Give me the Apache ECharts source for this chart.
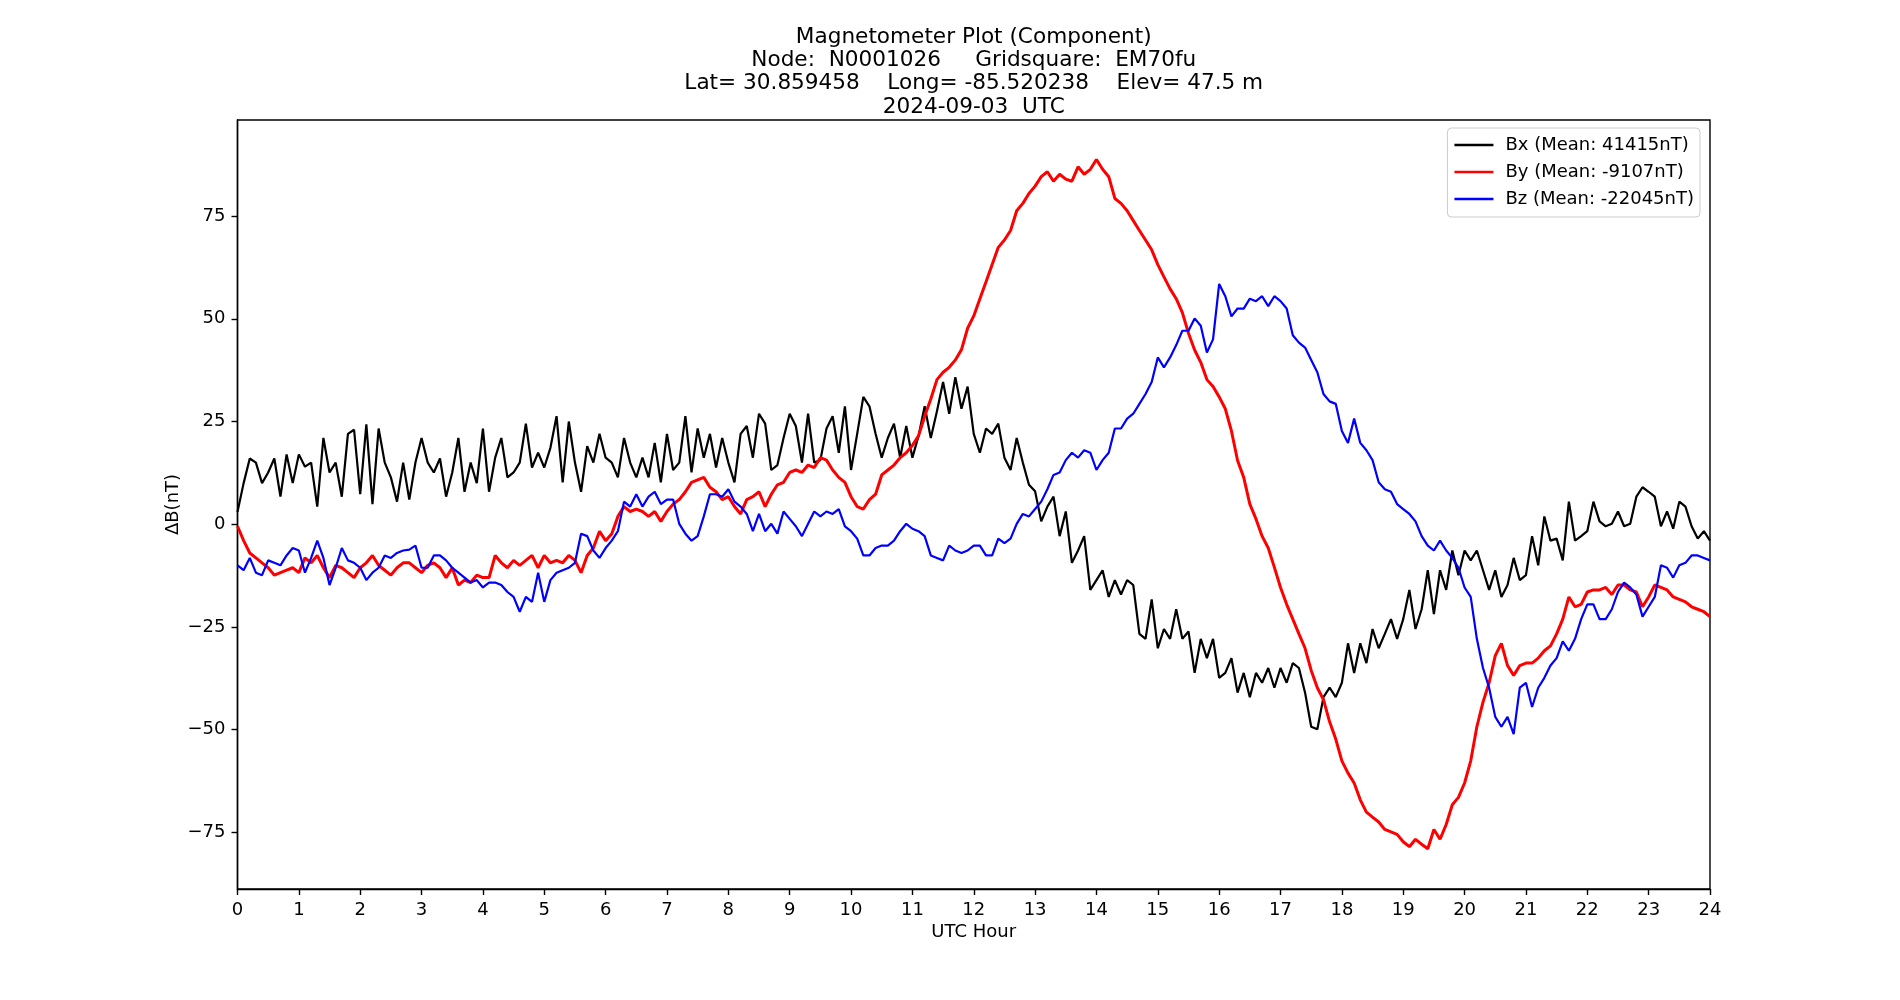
<!DOCTYPE html>
<html><head><meta charset="utf-8">
<script src="https://cdn.jsdelivr.net/npm/echarts@6/dist/echarts.min.js"></script>
<style>html,body{margin:0;padding:0;background:#fff}#c{width:1900px;height:1000px}</style>
</head><body><div id="c"></div>
<script>
// sample spacing (hours) of the values
const STEP_HOURS = 0.1;

const bx = [3,10,16,15,10,12.6,16,6.7,17,10,17,14,15,4.3,21,12.6,15,6.7,22,23,7.3,24.3,4.9,23.3,15,11.4,5.5,15,6,15,21,15,12.6,16,6.7,12.6,21,7.9,15,10,23.3,
7.9,16.2,21,11.4,12.6,15,24.5,13.8,17.4,13.8,18.6,26.3,10.2,25,15,7.9,19,15,22,16.2,15,11.4,21,15,11.4,16.2,11.4,19.8,10.2,22,13.2,15,26.3,12.6,23.3,16.2,22,13.8,21,15,
10.2,22,23.9,16.2,26.9,24.5,13.2,14.4,21,26.9,23.9,15,26.9,15,15.6,23.3,26.3,17.4,28.7,13.2,22,31,28.7,22,16.2,21,24.5,16.2,23.9,16.2,21.5,28.7,21,27.5,34.6,26.9,35.8,28.1,33.5,22,
17.4,23.3,22,24.5,16.2,13.2,21,15,9.6,8,0.7,4.3,6.7,-2.9,3.1,-9.4,-6.4,-2.9,-16,-13.6,-11.2,-17.7,-13.6,-17.1,-13.6,-14.8,-26.7,-27.9,-18.3,-30.2,-25.5,-27.9,-20.7,-27.9,-26.1,-36.2,-27.9,-32.6,-27.9,-37.4,
-36.2,-32.6,-41,-36.2,-42.1,-36.2,-38.6,-35,-39.8,-35,-38.6,-33.8,-35,-41,-49.3,-49.9,-42.1,-39.8,-42.1,-38.6,-29,-36.2,-29,-33.8,-25.5,-30.2,-26.7,-23.1,-27.9,-23.1,-16,-25.5,-20.7,-11.2,-21.9,-11.2,-16,-6.4,-12.4,-6.4,
-8.8,-6.4,-11.2,-16,-11.2,-17.7,-14.8,-8.2,-13.6,-12.4,-2.9,-10,1.9,-4,-3.5,-8.8,5.5,-4,-2.9,-1.7,5.5,0.7,-0.5,0.1,3.1,-0.5,0.1,6.7,9,7.9,6.7,-0.5,3.1,-1.1,5.5,4.3,-0.5,-3.5,-1.7,-4];

const by = [-0.5,-4,-7,-8.2,-9.4,-10.6,-12.4,-11.8,-11.2,-10.6,-11.8,-8.2,-9.4,-7.6,-10.6,-13,-10,-10.6,-11.8,-13,-10.6,-9.4,-7.6,-10,-11.2,-12.4,-10.6,-9.4,-9.4,-10.6,-11.8,-10,-9.4,-10.6,-13,-10.6,-14.8,-13.6,-14.2,-12.4,-13,
-13,-7.6,-9.4,-10.6,-8.8,-10,-8.8,-7.6,-10.6,-7.6,-9.4,-8.8,-9.4,-7.6,-8.8,-11.8,-7.6,-5.8,-1.7,-4,-2.3,1.9,4.3,3.1,3.7,3.1,1.9,3.1,0.7,3.1,4.9,6,7.9,10.2,10.8,11.4,9,7.9,6,6.7,
4.3,2.5,6,6.7,7.9,4.3,7.3,9.6,10.2,12.6,13.2,12.6,14.4,13.8,16.2,15.6,13.2,11.4,10.2,6.7,4.3,3.7,6,7.3,12,13.2,14.4,16.2,17.4,19.2,21.5,26.3,30.5,35.2,37,38.2,40,42.5,47.7,50.7,
54.9,59,63.2,67.4,69.2,71.5,76.3,78.1,80.5,82.3,84.6,85.8,83.5,85.2,84,83.5,87,85.2,86.4,88.8,86.4,84.6,79.3,78.1,76.3,73.9,71.5,69.2,66.8,63.2,60.2,57.3,54.9,51.5,46.5,42.4,39.4,35.2,33.5,31,
28.1,22.7,15.5,11.4,4.9,1.3,-2.9,-5.8,-10.5,-15.4,-19.5,-23.1,-26.7,-30.2,-35.6,-39.8,-42.7,-48.1,-52.3,-57.6,-60.6,-63,-67.1,-70.1,-71.3,-72.5,-74.3,-74.9,-75.5,-77.3,-78.5,-76.7,-77.9,-79,-74.3,-76.7,-73.1,-68.3,-66.5,-63,
-57.6,-49.3,-43.3,-38.6,-32,-29,-34.4,-36.8,-34.4,-33.8,-33.8,-32.6,-30.8,-29.6,-26.7,-23.1,-17.7,-20.1,-19.5,-16.5,-16,-16,-15.4,-17.1,-14.8,-14.8,-16,-16.5,-20.1,-17.7,-14.8,-15.4,-16,-17.7,-18.3,-18.9,-20.1,-20.7,-21.3,-22.5];

const bz = [-10,-11.2,-8.2,-11.8,-12.4,-8.8,-9.4,-10,-7.6,-5.8,-6.4,-11.8,-8.2,-4,-8.2,-14.8,-10.6,-5.8,-8.8,-9.4,-10.6,-13.6,-11.8,-10.6,-7.6,-8.2,-7,-6.4,-6.2,-5.2,-10.6,-10.6,-7.6,-7.6,-8.8,-10.6,-11.8,-13,-14.2,-13.6,-15.4,
-14.2,-14.2,-14.8,-16.5,-17.7,-21.3,-17.7,-18.9,-11.8,-18.9,-13.6,-11.8,-11.2,-10.6,-9.4,-2.3,-2.9,-6.4,-8.2,-5.8,-4,-1.7,5.5,4.3,7.3,4.3,6.7,7.9,4.9,6,6,0.1,-2.3,-4,-2.9,1.9,7.3,7.3,6.7,8.5,
5.5,4.3,2.5,-1.7,2.5,-1.7,0.1,-2.3,3.1,1.3,-0.5,-2.9,0.1,3.1,1.9,3.1,2.5,3.7,-0.5,-1.7,-3.5,-7.6,-7.6,-5.8,-5.2,-5.2,-4,-1.7,0.1,-1.1,-1.7,-2.9,-7.6,-8.2,-8.8,-5.2,-6.4,-7,-6.4,-5.2,
-5.2,-7.6,-7.6,-3.5,-4.6,-3.5,0.1,2.5,1.9,3.7,5.5,8.5,12,12.6,15.6,17.4,16.2,18,17.4,13.2,15.6,17.4,23.3,23.3,25.7,26.9,29.3,31.7,34.6,40.6,38.2,40.6,43.6,47.1,47.1,50.1,48.3,41.8,45,58.5,
55.5,50.6,52.5,52.5,54.9,54.3,55.5,53.1,55.5,54.3,52.5,46,44.2,43,40,37,31.7,29.9,29.3,22.7,19.8,25.7,19.8,18,15.6,10.2,8.5,7.9,4.9,3.7,2.5,0.7,-2.9,-5.2,-6.4,-4,-6.4,-8.2,-10.6,-15.4,
-17.7,-27.9,-35,-39.8,-46.9,-49.3,-46.9,-51.1,-39.8,-38.6,-44.5,-39.8,-37.4,-34.4,-32.6,-28.5,-30.8,-27.9,-23.1,-19.5,-19.5,-23.1,-23.1,-20.7,-16.5,-14.2,-15.4,-17.1,-22.5,-20.1,-17.7,-10,-10.6,-13,-10,-9.4,-7.6,-7.6,-8.2,-8.8];

const seriesNames = ['Bx (Mean: 41415nT)', 'By (Mean: -9107nT)', 'Bz (Mean: -22045nT)'];
const seriesColors = ['#000000', '#ff0000', '#0000ff'];
const xTicks = [0,1,2,3,4,5,6,7,8,9,10,11,12,13,14,15,16,17,18,19,20,21,22,23,24];
const yTicks = [-75,-50,-25,0,25,50,75];
const titleLines = [
  'Magnetometer Plot (Component)',
  'Node:  N0001026     Gridsquare:  EM70fu',
  'Lat= 30.859458    Long= -85.520238    Elev= 47.5 m',
  '2024-09-03  UTC'
];
const xName = 'UTC Hour';
const yName = '\u0394B(nT)';

const FONT = 'DejaVu Sans';
function pairs(arr) { return arr.map((v, i) => [Math.round(i * STEP_HOURS * 100) / 100, v]); }
function fmt(v) { return v < 0 ? '\u2212' + Math.abs(v) : String(v); }

const chart = echarts.init(document.getElementById('c'), null, { renderer: 'canvas' });
chart.setOption({
  animation: false,
  backgroundColor: '#ffffff',
  title: {
    text: titleLines.join('\n'),
    left: 973.75, top: 25.5, textAlign: 'center', padding: 0,
    textStyle: { fontFamily: FONT, fontSize: 21.6, fontWeight: 'normal', color: '#000', lineHeight: 23.3 }
  },
  grid: { left: 237.5, right: 190, top: 120, bottom: 111, show: true, borderColor: '#000', borderWidth: 1.4, outerBoundsMode: 'none', containLabel: false },
  legend: {
    orient: 'vertical', right: 200, top: 128,
    padding: [7, 6, 8, 7], itemGap: 7, itemWidth: 39, itemHeight: 2.6, icon: 'rect',
    backgroundColor: 'rgba(255,255,255,0.8)', borderColor: '#cccccc', borderWidth: 1, borderRadius: 4,
    textStyle: { fontFamily: FONT, fontSize: 18, color: '#000', lineHeight: 20, padding: [0, 0, 0, 7] },
    data: seriesNames
  },
  xAxis: {
    type: 'value', min: 0, max: 24, interval: 1,
    name: xName, nameLocation: 'middle', nameGap: 34, nameMoveOverlap: false,
    nameTextStyle: { fontFamily: FONT, fontSize: 18, color: '#000' },
    axisLine: { show: true, onZero: false, lineStyle: { color: '#000', width: 1.4 } },
    axisTick: { show: true, length: 6, lineStyle: { color: '#000', width: 1.4 } },
    axisLabel: { color: '#000', fontFamily: FONT, fontSize: 18, margin: 12, customValues: xTicks },
    splitLine: { show: false }
  },
  yAxis: {
    type: 'value', min: -88.8, max: 98.4,
    name: yName, nameLocation: 'middle', nameGap: 55, nameRotate: 90, nameMoveOverlap: false,
    nameTextStyle: { fontFamily: FONT, fontSize: 18, color: '#000' },
    axisLine: { show: true, onZero: false, lineStyle: { color: '#000', width: 1.4 } },
    axisTick: { show: true, length: 6, customValues: yTicks, lineStyle: { color: '#000', width: 1.4 } },
    axisLabel: { color: '#000', fontFamily: FONT, fontSize: 18, margin: 12, customValues: yTicks, formatter: fmt },
    splitLine: { show: false }
  },
  series: [bx, by, bz].map((arr, i) => ({
    name: seriesNames[i], type: 'line', data: pairs(arr),
    showSymbol: false, symbol: 'none', sampling: null,
    color: seriesColors[i],
    lineStyle: { color: seriesColors[i], width: i === 1 ? 3 : 2.2 },
    emphasis: { disabled: true }
  }))
});
</script></body></html>
